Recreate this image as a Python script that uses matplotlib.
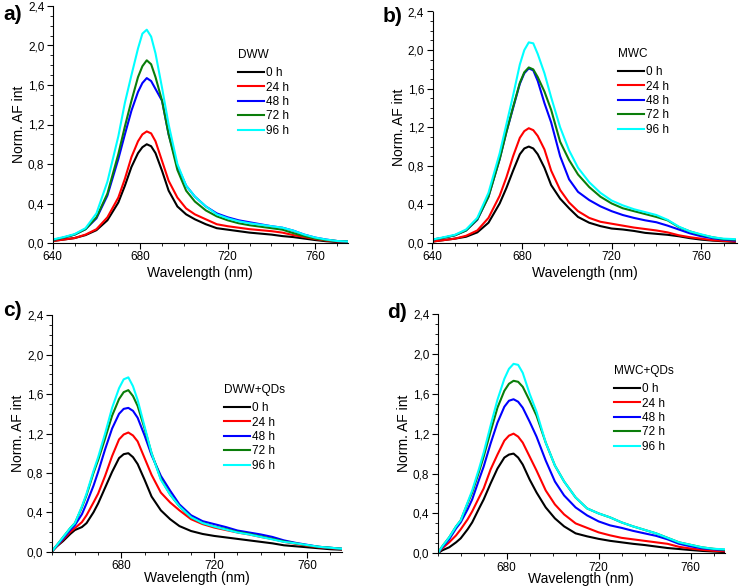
import matplotlib

matplotlib.use("Agg")

import matplotlib.pyplot as plt
from matplotlib.ticker import MultipleLocator, FuncFormatter

plt.rcParams["font.family"] = ["Liberation Sans", "DejaVu Sans"]

TIMES = ["0 h", "24 h", "48 h", "72 h", "96 h"]
COLORS = ["#000000", "#ff0000", "#0000ff", "#0a7d0a", "#00ffff"]

# wavelength grid (nm) for the untreated samples (a, b)
wl_ab = [640, 645, 650, 655, 660, 665, 670, 673, 676, 679, 681, 683, 685, 687,
         690, 693, 697, 701, 705, 710, 715, 720, 725, 730, 735, 740, 745, 750,
         755, 760, 765, 770, 775]

# a) DWW
dww_0 = [.02, .035, .05, .08, .13, .23, .41, .58, .77, .91, .97, 1.00, .98, .91,
         .73, .53, .37, .29, .24, .19, .15, .135, .12, .105, .095, .085, .07, .06,
         .045, .03, .018, .01, .005]
dww_24 = [.02, .035, .05, .085, .14, .26, .46, .65, .87, 1.03, 1.10, 1.13, 1.11, 1.03,
          .83, .63, .46, .35, .29, .24, .19, .17, .155, .14, .13, .12, .105, .08,
          .06, .04, .025, .015, .008]
dww_48 = [.03, .055, .085, .14, .25, .48, .85, 1.10, 1.34, 1.53, 1.62, 1.67, 1.64, 1.56,
          1.44, 1.10, .78, .58, .47, .37, .30, .26, .23, .21, .19, .17, .155, .125,
          .085, .055, .035, .02, .015]
dww_72 = [.03, .055, .085, .14, .26, .50, .90, 1.18, 1.44, 1.68, 1.79, 1.85, 1.81, 1.68,
          1.44, 1.10, .74, .53, .42, .33, .27, .23, .20, .18, .165, .15, .135, .10,
          .07, .045, .03, .02, .015]
dww_96 = [.035, .06, .09, .15, .30, .62, 1.08, 1.42, 1.70, 1.97, 2.12, 2.16, 2.09, 1.92,
          1.57, 1.20, .80, .58, .47, .37, .29, .25, .22, .20, .185, .17, .155, .125,
          .085, .055, .035, .02, .015]

# b) MWC
mwc_0 = [.015, .03, .045, .065, .11, .21, .41, .57, .75, .92, .98, 1.00, .98, .92,
         .78, .60, .46, .36, .27, .21, .175, .15, .14, .125, .105, .095, .085, .07,
         .05, .035, .025, .018, .012]
mwc_24 = [.015, .03, .045, .075, .13, .26, .49, .68, .90, 1.09, 1.16, 1.19, 1.17, 1.11,
          .97, .75, .55, .42, .33, .26, .22, .20, .18, .16, .145, .13, .11, .08,
          .06, .045, .03, .022, .015]
mwc_48 = [.035, .055, .08, .13, .24, .48, .87, 1.15, 1.40, 1.65, 1.76, 1.81, 1.79, 1.68,
          1.45, 1.25, .90, .66, .53, .445, .38, .33, .29, .26, .235, .215, .18, .14,
          .10, .07, .05, .035, .025]
mwc_72 = [.035, .055, .08, .13, .245, .48, .87, 1.15, 1.41, 1.66, 1.77, 1.82, 1.80, 1.72,
          1.57, 1.38, 1.05, .86, .71, .58, .48, .41, .36, .33, .30, .27, .235, .165,
          .12, .085, .06, .04, .035]
mwc_96 = [.035, .06, .085, .14, .26, .52, .93, 1.23, 1.53, 1.85, 2.00, 2.08, 2.07, 1.96,
          1.76, 1.51, 1.20, .96, .78, .63, .52, .44, .39, .35, .32, .29, .24, .17,
          .12, .09, .06, .045, .04]

# wavelength grid (nm) for the QD treated samples (c, d)
wl_cd = [650, 652, 655, 658, 660, 663, 665, 668, 670, 673, 676, 679, 681, 683, 685,
         687, 690, 693, 697, 701, 705, 710, 715, 720, 725, 730, 735, 740, 745, 750,
         755, 760, 765, 770, 775]

# c) DWW+QDs
dwwq_0 = [0, .05, .11, .18, .22, .25, .29, .40, .49, .65, .81, .95, .99, 1.00, .96,
          .89, .73, .56, .42, .33, .26, .21, .18, .16, .145, .13, .115, .10, .085, .065,
          .055, .045, .035, .025, .02]
dwwq_24 = [0, .05, .125, .20, .24, .30, .37, .50, .59, .77, .97, 1.14, 1.19, 1.21, 1.18,
           1.12, .95, .78, .60, .50, .42, .33, .28, .245, .22, .195, .175, .15, .13, .10,
           .08, .06, .045, .035, .025]
dwwq_48 = [0, .055, .135, .22, .27, .38, .49, .67, .81, 1.04, 1.25, 1.40, 1.45, 1.46, 1.43,
           1.36, 1.18, .98, .77, .62, .48, .37, .31, .28, .25, .215, .195, .175, .15, .115,
           .09, .07, .05, .04, .03]
dwwq_72 = [0, .06, .15, .24, .29, .45, .575, .80, .93, 1.15, 1.38, 1.55, 1.62, 1.64, 1.58,
           1.48, 1.25, 1.00, .74, .58, .46, .35, .29, .255, .23, .20, .18, .155, .13, .105,
           .085, .065, .05, .04, .03]
dwwq_96 = [0, .06, .15, .24, .29, .46, .59, .82, .96, 1.20, 1.46, 1.66, 1.75, 1.77, 1.68,
           1.54, 1.27, 1.00, .73, .58, .46, .35, .29, .255, .225, .195, .175, .15, .125, .10,
           .085, .068, .05, .04, .03]

# d) MWC+QDs
mwcq_0 = [0, .03, .06, .11, .15, .24, .31, .45, .54, .70, .85, .96, .99, 1.00, .96,
          .89, .74, .61, .46, .35, .27, .20, .17, .145, .125, .11, .095, .083, .068, .053,
          .043, .033, .024, .018, .012]
mwcq_24 = [0, .05, .11, .18, .24, .34, .42, .56, .65, .84, .99, 1.13, 1.18, 1.20, 1.17,
           1.11, .97, .83, .63, .49, .39, .30, .255, .21, .18, .155, .14, .125, .11, .095,
           .065, .048, .035, .025, .02]
mwcq_48 = [0, .06, .14, .25, .31, .44, .54, .74, .87, 1.10, 1.31, 1.47, 1.53, 1.545, 1.52,
           1.46, 1.32, 1.17, .93, .72, .58, .46, .38, .32, .28, .255, .225, .20, .175, .14,
           .095, .07, .05, .04, .03]
mwcq_72 = [0, .07, .16, .27, .33, .50, .61, .82, .97, 1.22, 1.46, 1.63, 1.70, 1.73, 1.72,
           1.67, 1.53, 1.38, 1.11, .88, .72, .56, .45, .40, .36, .31, .27, .235, .20, .155,
           .11, .085, .06, .045, .035]
mwcq_96 = [0, .07, .16, .27, .33, .51, .63, .85, 1.01, 1.28, 1.54, 1.75, 1.85, 1.90, 1.89,
           1.81, 1.60, 1.42, 1.11, .88, .72, .56, .45, .40, .36, .31, .27, .235, .20, .155,
           .11, .085, .06, .045, .04]


def comma(v, pos):
    return f"{v:.1f}".replace(".", ",")


def draw_panel(ax, wl, series, title, xlim, xticks, leg_xy, xlabelpad):
    for label, values, color in zip(TIMES, series, COLORS):
        ax.plot(wl, values, color=color, lw=1.5, label=label,
                solid_joinstyle="round")
    ax.set_xlim(*xlim)
    ax.set_ylim(0, 2.4)
    ax.set_xticks(xticks)
    ax.xaxis.set_minor_locator(MultipleLocator(10))
    ax.yaxis.set_major_locator(MultipleLocator(0.4))
    ax.yaxis.set_minor_locator(MultipleLocator(0.1))
    ax.yaxis.set_major_formatter(FuncFormatter(comma))
    ax.spines["top"].set_visible(False)
    ax.spines["right"].set_visible(False)
    ax.tick_params(which="major", direction="out", length=4, width=0.8,
                   labelsize=8.5, pad=2)
    ax.tick_params(which="minor", direction="out", length=2, width=0.6)
    ax.set_xlabel("Wavelength (nm)", fontsize=10, labelpad=xlabelpad)
    ax.set_ylabel("Norm. AF int", fontsize=10, labelpad=1)
    leg = ax.legend(title=title, loc="upper left", bbox_to_anchor=leg_xy,
                    bbox_transform=ax.figure.transFigure, frameon=False,
                    fontsize=8.5, title_fontsize=8.5, handlelength=2.2,
                    handletextpad=0.15, labelspacing=0.2, borderpad=0,
                    borderaxespad=0, alignment="left")
    # a bit more room between the legend title and the entries
    leg._legend_box.sep = 4.5


fig = plt.figure(figsize=(7.39, 5.86), dpi=100)
W, H = 739.0, 586.0


def rect(left, top, right, bottom):
    return [left / W, 1 - bottom / H, (right - left) / W, (bottom - top) / H]


ax_a = fig.add_axes(rect(52.7, 6, 348, 243))
ax_b = fig.add_axes(rect(432.5, 11.5, 737, 243))
ax_c = fig.add_axes(rect(51.7, 315.3, 342, 551.7))
ax_d = fig.add_axes(rect(437.7, 314, 725, 553.3))

draw_panel(ax_a, wl_ab, [dww_0, dww_24, dww_48, dww_72, dww_96], "DWW",
           (640, 775), [640, 680, 720, 760], (238 / W, 1 - 49 / H), 2)
draw_panel(ax_b, wl_ab, [mwc_0, mwc_24, mwc_48, mwc_72, mwc_96], "MWC",
           (640, 776), [640, 680, 720, 760], (618 / W, 1 - 48 / H), 2)
draw_panel(ax_c, wl_cd, [dwwq_0, dwwq_24, dwwq_48, dwwq_72, dwwq_96], "DWW+QDs",
           (650, 775), [680, 720, 760], (224 / W, 1 - 384 / H), -1)
draw_panel(ax_d, wl_cd, [mwcq_0, mwcq_24, mwcq_48, mwcq_72, mwcq_96], "MWC+QDs",
           (650, 775), [680, 720, 760], (614 / W, 1 - 365 / H), -1)

for lab, x, y in [("a)", 3, 15), ("b)", 383, 17), ("c)", 3, 310), ("d)", 387, 312)]:
    fig.text(x / W, 1 - y / H, lab, fontsize=15, fontweight="bold", va="center")

fig.savefig("out.png", dpi=100)
